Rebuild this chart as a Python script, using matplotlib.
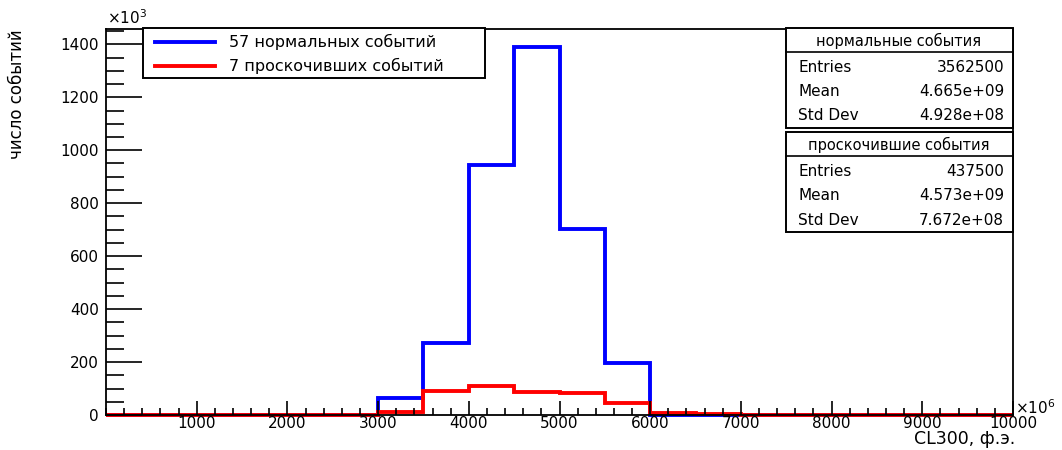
import numpy as np
import matplotlib.pyplot as plt
from matplotlib.patches import Rectangle
from matplotlib.lines import Line2D

plt.rcParams['font.family'] = ['DejaVu Sans']

# CL300 bins, units of 1e6 photoelectrons
edges = np.arange(0, 10001, 500)
# counts per bin, units of 1e3
normal = [0, 0, 0, 0, 0, 0, 63, 271, 944, 1389, 702, 195, 1, 0, 0, 0, 0, 0, 0, 0]
passed = [0, 0, 0, 0, 0, 1, 11, 91, 110, 87, 83, 45, 6, 2, 0, 0, 0, 0, 0, 0]

labels = ["57 нормальных событий", "7 проскочивших событий"]
xticks = np.arange(1000, 10001, 1000)
yticks = np.arange(0, 1401, 200)

stats = [
    ("нормальные события", [("Entries", "3562500"), ("Mean", "4.665e+09"), ("Std Dev", "4.928e+08")]),
    ("проскочившие события", [("Entries", "437500"), ("Mean", "4.573e+09"), ("Std Dev", "7.672e+08")]),
]

W, H = 1062, 450
fig = plt.figure(figsize=(W / 100, H / 100), dpi=100)


def fx(x):
    return x / W


def fy(y):
    return 1 - y / H


ax = fig.add_axes([fx(106), fy(415), fx(1013) - fx(106), fy(29) - fy(415)])

h1 = ax.stairs(normal, edges, color="#0000ff", linewidth=2.8, clip_on=False, label=labels[0])
h2 = ax.stairs(passed, edges, color="#ff0000", linewidth=2.8, clip_on=False, label=labels[1])

ax.set_xlim(0, 10000)
ax.set_ylim(0, 1458)
ax.set_xticks(xticks)
ax.set_xticks(np.arange(0, 10001, 200), minor=True)
ax.set_yticks(yticks)
ax.set_yticks(np.arange(0, 1451, 50), minor=True)
ax.tick_params(axis="x", which="major", direction="in", length=10, width=1.2, labelsize=11, pad=1)
ax.tick_params(axis="x", which="minor", direction="in", length=5, width=1.2)
ax.tick_params(axis="y", which="major", direction="in", length=26, width=1.2, labelsize=11, pad=5)
ax.tick_params(axis="y", which="minor", direction="in", length=13, width=1.2)
for s in ax.spines.values():
    s.set_linewidth(1.3)

fig.text(fx(107), fy(18), r"$\times$10$^{3}$", fontsize=11, ha="left", va="center")
fig.text(fx(1015), fy(408), r"$\times$10$^{6}$", fontsize=11, ha="left", va="center")
fig.text(fx(1015), fy(439), "CL300, ф.э.", fontsize=12.5, ha="right", va="center")
fig.text(fx(17), fy(29), "число событий", fontsize=12, rotation=90, ha="center", va="top")

# legend box
fig.patches.append(Rectangle((fx(143), fy(78)), fx(485) - fx(143), fy(28) - fy(78),
                             transform=fig.transFigure, facecolor="white", edgecolor="black",
                             linewidth=1.4, zorder=5))
for i, (h, lab) in enumerate(zip([h1, h2], labels)):
    y = 42 + 24 * i
    fig.add_artist(Line2D([fx(155), fx(215)], [fy(y), fy(y)], color=h.get_edgecolor(),
                          linewidth=2.8, transform=fig.transFigure, zorder=6))
    fig.text(fx(229), fy(y), lab, fontsize=11.5, ha="left", va="center", zorder=6)

# stat boxes
tops = [28, 132]
for top, (title, rows) in zip(tops, stats):
    fig.patches.append(Rectangle((fx(786), fy(top + 100)), fx(1013) - fx(786), fy(top) - fy(top + 100),
                                 transform=fig.transFigure, facecolor="white", edgecolor="black",
                                 linewidth=1.4, zorder=5))
    fig.add_artist(Line2D([fx(786), fx(1013)], [fy(top + 24), fy(top + 24)], color="black",
                          linewidth=1.2, transform=fig.transFigure, zorder=6))
    fig.text(fx(899), fy(top + 13), title, fontsize=10.5, ha="center", va="center", zorder=6)
    for j, (name, val) in enumerate(rows):
        y = top + 39 + 24.5 * j
        fig.text(fx(798), fy(y), name, fontsize=11, ha="left", va="center", zorder=6)
        fig.text(fx(1004), fy(y), val, fontsize=11, ha="right", va="center", zorder=6)

fig.savefig("out.png", dpi=100)
